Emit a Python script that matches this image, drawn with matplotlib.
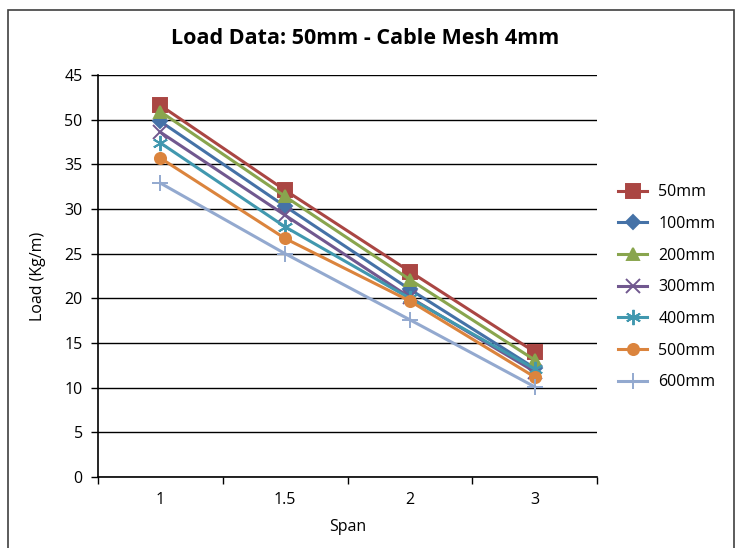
import numpy as np
import matplotlib.pyplot as plt
from matplotlib.patches import Rectangle

plt.rcParams['font.family'] = ['Open Sans', 'DejaVu Sans']

spans = ['1', '1.5', '2', '3']
series_names = ['50mm', '100mm', '200mm', '300mm', '400mm', '500mm', '600mm']

load_50 = [41.6, 32.1, 23.0, 14.0]
load_100 = [39.8, 30.3, 21.0, 12.2]
load_200 = [40.9, 31.4, 22.1, 13.1]
load_300 = [38.6, 29.3, 20.1, 11.8]
load_400 = [37.4, 28.0, 20.0, 12.1]
load_500 = [35.7, 26.7, 19.7, 11.2]
load_600 = [32.9, 25.0, 17.6, 10.1]

# y tick labels as printed on the chart
ytick_vals = [0, 5, 10, 15, 20, 25, 30, 35, 40, 45]
ytick_text = ['0', '5', '10', '15', '20', '25', '30', '35', '50', '45']

colors = ['#AA4643', '#4572A7', '#89A54E', '#71588F', '#4198AF', '#DB843D', '#93A9CF']
markers = ['s', 'D', '^', 'x', (6, 2, 0), 'o', '+']
msizes = [10, 7, 8, 10, 11, 8, 12]

data = [load_50, load_100, load_200, load_300, load_400, load_500, load_600]

fig = plt.figure(figsize=(7.4, 5.48), dpi=100)
ax = fig.add_axes([98 / 740, 71 / 548, 499 / 740, 402 / 548])

x = np.arange(len(spans))
for vals, name, c, m, ms in zip(data, series_names, colors, markers, msizes):
    ax.plot(x, vals, color=c, lw=2.2, marker=m, markersize=ms,
            markeredgewidth=1.4, label=name)

ax.set_xlim(-0.5, len(spans) - 0.5)
ax.set_ylim(0, 45)
ax.set_yticks(ytick_vals)
ax.set_yticklabels(ytick_text, fontsize=11.5)
ax.yaxis.grid(True, color='black', lw=1)
ax.set_axisbelow(True)

ax.set_xticks(np.arange(-0.5, len(spans), 1.0))
ax.set_xticklabels([])
ax.set_xticks(x, minor=True)
ax.set_xticklabels(spans, minor=True, fontsize=11.5)
ax.tick_params(axis='x', which='minor', length=0, pad=11)
ax.tick_params(axis='x', which='major', length=5, direction='out', width=1)
ax.tick_params(axis='y', length=5, width=1, pad=6)

for s in ['top', 'right']:
    ax.spines[s].set_visible(False)
for s in ['left', 'bottom']:
    ax.spines[s].set_linewidth(1.2)

ax.set_xlabel('Span', fontsize=11.5, labelpad=8)
ax.set_ylabel('Load (Kg/m)', fontsize=11.5, labelpad=13)

fig.text(365 / 740, 1 - 38 / 548, 'Load Data: 50mm - Cable Mesh 4mm',
         ha='center', va='center', fontsize=15.5, fontweight='bold')

fig.legend(loc='upper left', bbox_to_anchor=(604 / 740, 1 - 170 / 548),
           frameon=False, fontsize=11.5, handlelength=1.8, labelspacing=0.98,
           handletextpad=0.7)

fig.patches.append(Rectangle((8 / 740, -0.1), 726 / 740, 1.1 - 10 / 548,
                             transform=fig.transFigure, fill=False,
                             edgecolor='#404040', lw=1.2))

fig.savefig('out.png', dpi=100)
